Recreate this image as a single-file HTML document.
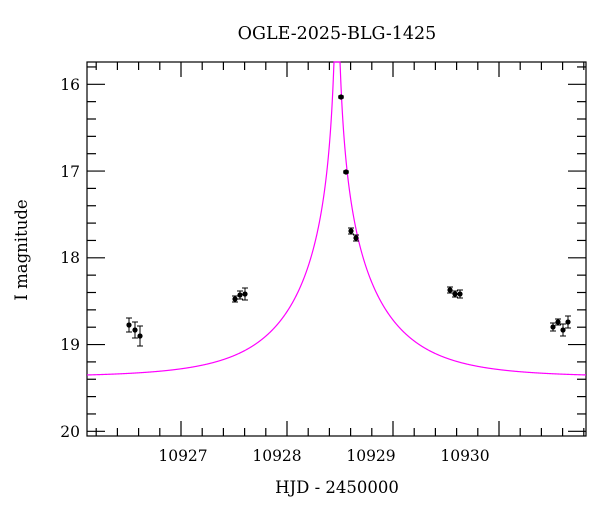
<!DOCTYPE html>
<html><head><meta charset="utf-8"><style>
body{margin:0;background:#fff;width:600px;height:512px;overflow:hidden}
text{font-family:"DejaVu Serif","Liberation Serif",serif;fill:#000}
</style></head><body>
<svg id="s" width="600" height="512" xmlns="http://www.w3.org/2000/svg">
<text x="337" y="39" font-size="17.5" text-anchor="middle">OGLE-2025-BLG-1425</text>
<text x="337" y="493" font-size="16.5" text-anchor="middle">HJD - 2450000</text>
<text transform="translate(27,250) rotate(-90)" font-size="16.5" text-anchor="middle">I magnitude</text>
<g font-size="15.5" text-anchor="middle">
<text x="183" y="461">10927</text><text x="277" y="461">10928</text>
<text x="371" y="461">10929</text><text x="465" y="461">10930</text>
</g>
<g font-size="15.5" text-anchor="end">
<text x="80" y="90">16</text><text x="80" y="177">17</text><text x="80" y="263">18</text>
<text x="80" y="350">19</text><text x="80" y="437">20</text>
</g>
<g id="ax" stroke="#000" stroke-width="1.2" fill="none"></g>
<g id="dat" stroke="#000" stroke-width="1" fill="#000"></g>
</svg>
<script>
var ax=document.getElementById('ax'),L=87,R=586,T=62,B=436,h='';
h+='<rect x="'+L+'" y="'+T+'" width="'+(R-L)+'" height="'+(B-T)+'"/>';
for(var k=-10;k<30;k++){var x=181+k*21.2;if(x<=L+1||x>=R-1)continue;var len=(k%5==0)?15:8;
h+='<line x1="'+x+'" y1="'+T+'" x2="'+x+'" y2="'+(T+len)+'"/><line x1="'+x+'" y1="'+B+'" x2="'+x+'" y2="'+(B-len)+'"/>';}
for(var k=-5;k<30;k++){var y=84.3+k*17.35;if(y<=T+1||y>=B-1)continue;var len=(k%5==0)?18:9;
h+='<line x1="'+L+'" y1="'+y+'" x2="'+(L+len)+'" y2="'+y+'"/><line x1="'+R+'" y1="'+y+'" x2="'+(R-len)+'" y2="'+y+'"/>';}
var p='';for(var x=L;x<=R;x+=0.25){var u=Math.sqrt(0.0001+Math.pow((x-337)/90,2));var A=(u*u+2)/(u*Math.sqrt(u*u+4));var y=377-86.75*2.5*Math.log10(A);if(y<T)y=T;p+=(p?'L':'M')+x.toFixed(2)+' '+y.toFixed(2);}
h+='<path d="'+p+'" stroke="#ff00ff" stroke-width="1.2"/>';
ax.innerHTML=h;
var d=[[129,325,7],[135,330,8],[140,336,10],[235,299,3],[240,295,4],[245,294,6],[341,97,1],[346,172,1],[351,231,3],[356,238,3],[450,290,3],[455,294,3],[460,294,4],[553,327,4],[558,322,3],[563,330,6],[568,322,6]];
var g='';d.forEach(function(q){var x=q[0],y=q[1],e=q[2];
g+='<line x1="'+x+'" y1="'+(y-e)+'" x2="'+x+'" y2="'+(y+e)+'"/><line x1="'+(x-3)+'" y1="'+(y-e)+'" x2="'+(x+3)+'" y2="'+(y-e)+'"/><line x1="'+(x-3)+'" y1="'+(y+e)+'" x2="'+(x+3)+'" y2="'+(y+e)+'"/><circle cx="'+x+'" cy="'+y+'" r="2.6" stroke="none"/>';});
document.getElementById('dat').innerHTML=g;
</script>
</body></html>
